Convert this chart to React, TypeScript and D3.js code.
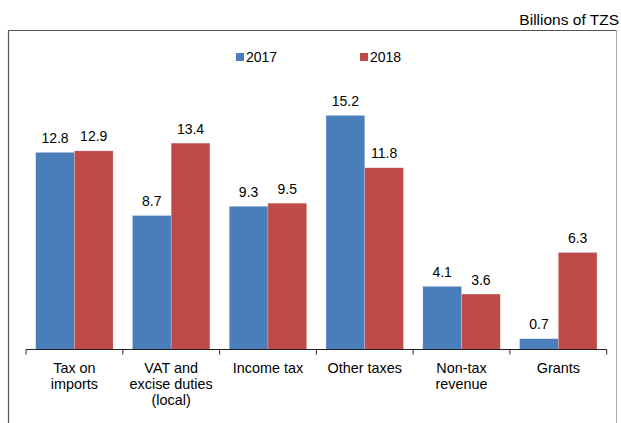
import React from "react";
import * as d3 from "d3";

const categories: string[][] = [
  ["Tax on", "imports"],
  ["VAT and", "excise duties", "(local)"],
  ["Income tax"],
  ["Other taxes"],
  ["Non-tax", "revenue"],
  ["Grants"],
];
const seriesNames = ["2017", "2018"];
const values2017 = [12.8, 8.7, 9.3, 15.2, 4.1, 0.7];
const values2018 = [12.9, 13.4, 9.5, 11.8, 3.6, 6.3];
const colors = ["#4A7EBB", "#BE4B48"];
const unitLabel = "Billions of TZS";

const W = 621;
const H = 423;
const FONT = "'Liberation Sans', Arial, Helvetica, sans-serif";

export default function App() {
  const axisY = 349.5;
  const x0 = d3
    .scaleBand<number>()
    .domain(categories.map((_, i) => i))
    .range([26, 606.7])
    .paddingInner(0.2)
    .paddingOuter(0.1);
  const x1 = d3
    .scaleBand<number>()
    .domain([0, 1])
    .range([0, x0.bandwidth()]);
  const y = d3.scaleLinear().domain([0, 20]).range([axisY, axisY - 20 * 15.4]);
  const series = [values2017, values2018];
  const step = x0.step();
  const tickXs = d3.range(categories.length + 1).map((i) => 26 + i * step);

  return (
    <svg
      width={W}
      height={H}
      style={{ position: "absolute", left: 0, top: 0, background: "#fff" }}
      fontFamily={FONT}
    >
      <rect x={0} y={0} width={W} height={H} fill="#fff" />
      <text x={619} y={24.5} fontSize={15.5} textAnchor="end" fill="#000">
        {unitLabel}
      </text>
      {/* chart border */}
      <line x1={8.5} y1={31} x2={8.5} y2={H + 2} stroke="#555" strokeWidth={1.2} />
      <line x1={8} y1={30.5} x2={617} y2={30.5} stroke="#555" strokeWidth={1.2} />
      <line x1={616.5} y1={30} x2={616.5} y2={H + 2} stroke="#aaa" strokeWidth={1} />

      {/* legend */}
      {seriesNames.map((s, i) => {
        const lx = i === 0 ? 236 : 360;
        return (
          <g key={s}>
            <rect x={lx} y={53} width={8} height={8} fill={colors[i]} />
            <text x={lx + 10} y={61.5} fontSize={14} fill="#000">
              {s}
            </text>
          </g>
        );
      })}

      {/* bars */}
      {categories.map((_, ci) => (
        <g key={ci} transform={`translate(${x0(ci)},0)`}>
          {series.map((vals, si) => {
            const v = vals[ci];
            const bx = x1(si)!;
            const by = y(v);
            return (
              <g key={si}>
                <rect
                  x={bx}
                  y={by}
                  width={x1.bandwidth()}
                  height={axisY - by}
                  fill={colors[si]}
                  stroke="#ffffff"
                  strokeOpacity={0.35}
                  strokeWidth={0.6}
                />
                <text
                  x={bx + x1.bandwidth() / 2}
                  y={by - 9.5}
                  fontSize={14}
                  textAnchor="middle"
                  fill="#000"
                >
                  {v.toFixed(1)}
                </text>
              </g>
            );
          })}
        </g>
      ))}

      {/* axis */}
      <line x1={26} y1={axisY} x2={606.7} y2={axisY} stroke="#222" strokeWidth={1.2} />
      {tickXs.map((tx, i) => (
        <line key={i} x1={tx} y1={axisY} x2={tx} y2={axisY + 5} stroke="#222" strokeWidth={1} />
      ))}
      {categories.map((lines, ci) => (
        <text
          key={ci}
          x={x0(ci)! + x0.bandwidth() / 2}
          y={373.3}
          fontSize={14.4}
          textAnchor="middle"
          fill="#000"
        >
          {lines.map((l, li) => (
            <tspan key={li} x={x0(ci)! + x0.bandwidth() / 2} dy={li === 0 ? 0 : 16}>
              {l}
            </tspan>
          ))}
        </text>
      ))}
    </svg>
  );
}
